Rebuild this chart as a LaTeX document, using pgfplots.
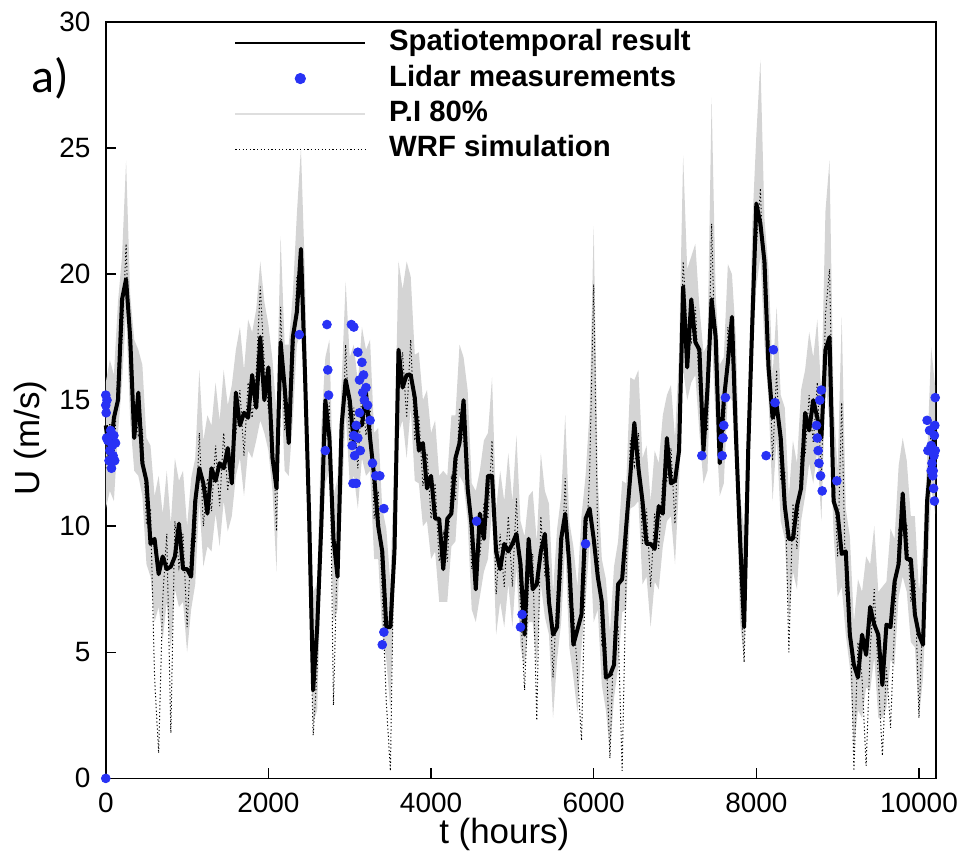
\documentclass[border=0pt]{standalone}
\usepackage{pgfplots}
\pgfplotsset{compat=1.18}
\usepackage{pgfplotstable}
\usepgfplotslibrary{fillbetween}
\usepackage{fontspec}
\setmainfont{Liberation Sans}
\newfontfamily\carlito{Carlito}
\definecolor{lidar}{RGB}{40,50,245}
\definecolor{piband}{RGB}{212,212,212}
\definecolor{pileg}{RGB}{222,222,222}
\pgfplotsset{
  lline/.style={legend image code/.code={\draw[##1] (0pt,0pt) -- (65pt,0pt);}},
  lmark/.style={legend image code/.code={\draw[##1] plot coordinates {(32.5pt,0pt)};}},
}

\pgfplotstableread{
t u hi lo w
0 14.0 15.7 10.7 12.3
50 12.7 16.6 11.4 14.1
100 14.3 16.0 11.0 12.6
150 15.0 18.9 13.7 16.4
200 19.0 20.7 15.7 17.3
250 19.8 24.5 18.5 21.2
300 17.5 19.2 14.2 15.8
350 13.5 17.4 12.2 14.9
400 15.3 17.0 12.0 13.6
450 12.5 16.4 11.2 13.9
500 11.8 13.5 8.5 10.1
550 9.3 13.2 8.0 10.7
600 9.5 11.2 6.2 4.0
650 8.1 12.0 6.8 1.0
700 8.8 10.5 5.5 7.1
750 8.3 12.2 7.0 9.7
800 8.4 10.1 5.1 1.8
850 8.8 12.7 7.5 10.2
900 10.1 11.8 6.8 8.4
950 8.3 12.2 7.0 9.7
1000 8.3 10.0 5.0 6.0
1050 8.0 11.9 6.7 9.4
1100 11.0 12.7 7.7 9.3
1150 12.3 16.2 11.0 13.7
1200 11.7 13.4 8.4 10.0
1250 10.5 14.4 9.2 11.9
1300 12.3 14.0 9.0 10.6
1350 11.8 15.7 10.5 13.2
1400 12.5 14.2 9.2 10.8
1450 12.3 16.2 11.0 13.7
1500 13.1 14.8 9.8 11.4
1550 11.7 15.6 10.4 13.1
1600 15.3 17.0 12.0 13.6
1650 14.0 17.9 12.7 15.4
1700 14.5 16.2 11.2 12.8
1750 14.3 18.2 13.0 15.7
1800 16.0 17.7 12.7 14.3
1850 14.7 18.6 13.4 16.1
1900 17.5 20.5 14.2 19.5
1950 15.0 18.9 13.7 16.4
2000 16.3 18.0 13.0 14.6
2050 12.7 16.6 11.4 14.1
2100 11.5 14.5 8.2 9.8
2150 17.3 21.5 16.0 18.7
2200 15.5 17.2 12.2 13.8
2250 13.3 17.2 12.0 14.7
2300 17.5 19.2 14.2 15.8
2350 18.5 22.4 17.2 19.9
2400 21.0 25.0 17.7 19.3
2450 16.0 19.9 14.7 17.4
2500 10.5 12.2 7.2 8.8
2550 3.5 7.4 2.2 1.7
2600 6.0 7.7 2.7 4.3
2650 10.0 13.9 8.7 11.4
2700 15.0 16.7 11.7 13.3
2750 13.5 17.4 12.2 14.9
2800 9.5 11.2 6.2 2.9
2850 8.0 11.9 6.7 9.4
2900 14.0 15.7 10.7 12.3
2950 15.8 19.7 14.5 17.2
3000 15.0 16.7 11.7 13.3
3050 13.3 17.2 12.0 14.7
3100 14.0 15.7 10.7 12.3
3150 14.0 17.9 12.7 15.4
3200 15.3 17.0 12.0 13.6
3250 13.5 17.4 12.2 14.9
3300 12.0 13.7 8.7 10.3
3350 10.0 13.9 8.7 11.4
3400 9.0 10.7 5.7 7.3
3450 6.0 9.9 4.7 3.0
3500 6.0 7.7 2.7 0.3
3550 9.0 12.9 7.7 10.4
3600 17.0 20.5 13.7 15.3
3650 15.5 19.4 14.2 16.9
3700 16.0 20.5 12.7 14.3
3750 16.0 19.9 14.7 17.4
3800 15.1 16.8 11.8 13.4
3850 13.0 16.9 11.7 14.4
3900 13.3 15.0 10.0 11.6
3950 11.5 15.4 10.2 12.9
4000 12.0 13.7 8.7 10.3
4050 10.3 14.2 9.0 11.7
4100 10.3 12.0 7.0 8.6
4150 8.3 12.2 7.0 9.7
4200 10.3 12.0 7.0 8.6
4250 10.5 14.4 9.2 11.9
4300 12.7 14.4 9.4 11.0
4350 13.3 17.2 12.0 14.7
4400 15.0 16.7 11.7 13.3
4450 11.5 15.4 10.2 12.9
4500 10.0 11.7 6.7 8.3
4550 7.5 11.4 6.2 8.9
4600 10.5 12.2 7.2 8.8
4650 9.5 13.4 8.2 10.9
4700 12.0 13.7 8.7 10.3
4750 12.0 15.9 10.7 13.4
4800 9.0 10.7 5.7 7.3
4850 8.3 12.2 7.0 9.7
4900 9.3 11.0 6.0 7.6
4950 9.0 12.9 7.7 10.4
5000 9.3 11.0 6.0 7.6
5050 9.7 13.6 8.4 11.1
5100 8.5 10.2 5.2 6.8
5150 5.7 9.6 4.4 3.5
5200 9.5 11.2 6.2 7.8
5250 7.5 11.4 6.2 8.9
5300 7.7 9.4 4.4 2.3
5350 9.0 12.9 7.7 10.4
5400 9.7 11.4 6.4 8.0
5450 7.0 10.9 5.7 8.4
5500 5.7 7.4 2.4 4.0
5550 6.0 9.9 4.7 7.4
5600 9.5 11.2 6.2 7.8
5650 10.5 14.4 9.2 11.9
5700 8.5 10.2 5.2 6.8
5750 5.3 9.2 4.0 6.7
5800 5.9 7.6 2.6 4.2
5850 6.5 10.4 5.2 1.5
5900 10.3 12.0 7.0 8.6
5950 10.7 14.6 9.4 12.1
6000 9.5 21.9 6.2 19.6
6050 8.0 11.9 6.7 9.4
6100 7.0 8.7 3.7 5.3
6150 4.0 7.9 2.7 5.4
6200 4.1 5.8 1.0 0.8
6250 4.5 8.4 3.2 5.9
6300 7.7 9.4 4.4 6.0
6350 7.9 11.8 6.6 0.3
6400 10.0 11.7 6.7 8.3
6450 12.0 15.9 10.7 13.4
6500 14.1 15.8 10.8 12.4
6550 12.3 16.2 11.0 13.7
6600 11.0 12.7 7.7 9.3
6650 9.3 13.2 8.0 10.7
6700 9.3 11.0 6.0 7.6
6750 9.1 13.0 7.8 10.5
6800 10.8 12.5 7.5 9.1
6850 10.5 14.4 9.2 11.9
6900 13.5 15.2 10.2 11.8
6950 11.7 15.6 10.4 13.1
7000 11.8 13.5 8.5 10.1
7050 13.0 16.9 11.7 14.4
7100 19.5 24.7 16.2 20.5
7150 16.3 20.2 15.0 17.7
7200 19.0 20.7 15.7 17.3
7250 17.3 21.2 16.0 18.7
7300 17.0 18.7 13.7 15.3
7350 13.0 16.9 11.7 14.4
7400 15.5 17.2 12.2 13.8
7450 19.0 27.0 17.7 22.0
7500 17.5 19.2 14.2 15.8
7550 12.5 16.4 11.2 13.9
7600 15.0 16.7 11.7 13.3
7650 16.5 20.4 15.2 17.9
7700 18.3 20.0 15.0 16.6
7750 13.5 17.4 12.2 14.9
7800 9.5 11.2 6.2 7.8
7850 6.0 9.9 4.7 4.6
7900 13.0 14.7 9.7 11.3
7950 18.0 21.9 16.7 19.4
8000 22.8 25.5 19.5 21.1
8050 22.0 28.5 20.7 23.4
8100 20.5 22.2 17.2 18.8
8150 16.3 20.2 15.0 17.7
8200 14.3 16.0 11.0 12.6
8250 14.8 18.7 13.5 16.2
8300 13.5 15.2 10.2 11.8
8350 10.8 14.7 9.5 12.2
8400 9.5 11.2 6.2 5.0
8450 9.5 13.4 8.2 10.9
8500 10.8 12.5 7.5 9.1
8550 11.5 15.4 10.2 12.9
8600 14.5 16.2 11.2 12.8
8650 13.8 17.7 12.5 15.2
8700 15.0 16.7 11.7 13.3
8750 14.3 18.2 13.0 15.7
8800 13.5 15.2 10.2 11.8
8850 17.0 22.5 15.7 18.4
8900 17.5 24.5 14.2 20.2
8950 11.0 14.9 9.7 12.4
9000 10.5 12.2 7.2 8.8
9050 8.9 18.3 7.6 14.9
9100 9.0 10.7 5.7 7.3
9150 5.7 9.6 4.4 7.1
9200 4.5 6.2 1.2 0.3
9250 4.0 7.9 2.7 5.4
9300 5.7 7.4 2.4 4.0
9350 4.9 8.8 3.6 0.5
9400 6.8 8.5 3.5 5.1
9450 6.1 10.0 4.8 7.5
9500 5.7 7.4 2.4 4.0
9550 3.7 7.6 2.4 0.9
9600 6.1 7.8 2.8 4.4
9650 6.0 9.9 4.7 2.0
9700 7.8 9.5 4.5 6.1
9750 8.5 12.4 7.2 9.9
9800 11.3 13.5 8.0 9.6
9850 8.7 12.6 7.4 10.1
9900 8.7 10.4 5.4 7.0
9950 6.5 10.4 5.2 7.9
10000 5.7 7.4 2.4 2.4
10050 5.3 9.2 4.0 6.7
10100 11.0 12.7 7.7 9.3
10150 12.8 17.1 11.5 14.2
10200 13.8 15.5 10.5 12.1
}\series

\pgfplotstableread{
t y
0 0
0 15.2
0 14.8
5 14.5
15 15.0
10 13.5
25 13.4
40 12.6
50 13.0
60 13.8
70 12.3
80 13.2
90 12.8
100 13.6
110 12.6
120 13.3
2380 17.6
2720 18.0
2730 16.2
2740 15.2
2700 13.0
3020 18.0
3050 17.9
3100 16.9
3150 16.5
3120 15.8
3160 15.3
3180 15.0
3120 14.5
3080 14.0
3050 13.6
3030 13.2
3100 13.5
3130 13.0
3060 12.8
3170 16.0
3200 15.5
3220 14.8
3250 14.2
3040 11.7
3080 11.7
3280 12.5
3320 12.0
3370 12.0
3420 10.7
3400 5.3
3420 5.8
4560 10.2
5100 6.0
5120 6.5
5900 9.3
7330 12.8
7580 12.8
7590 13.5
7600 14.0
7620 15.1
8120 12.8
8210 17.0
8230 14.9
8740 14.0
8750 13.5
8760 13.0
8770 12.5
8780 15.0
8800 15.4
8790 12.0
8810 11.4
8990 11.8
10100 14.2
10110 13.0
10130 13.8
10150 13.2
10160 12.5
10170 12.0
10180 11.5
10190 11.0
10200 13.0
10195 14.0
10185 12.8
10200 15.1
10175 12.2
10150 12.2
10190 13.6
}\lidar

\begin{document}
\begin{tikzpicture}
\begin{axis}[
  scale only axis,
  width=416pt, height=379pt,
  xmin=0, xmax=10210, ymin=0, ymax=30,
  clip=false,
  xtick={0,2000,4000,6000,8000,10000},
  ytick={0,5,10,15,20,25,30},
  scaled x ticks=false,
  /pgf/number format/set thousands separator={},
  /pgf/number format/assume math mode=true,
  tick label style={font=\fontsize{14}{16}\selectfont},
  yticklabel style={inner sep=0pt, xshift=-7.5pt},
  xticklabel style={inner sep=0pt, yshift=-7pt},
  tick align=inside,
  xtick pos=bottom, ytick pos=left,
  major tick length=5pt,
  axis line style={line width=0.8pt},
  every tick/.style={line width=0.8pt, black},
  xlabel={t (hours)},
  ylabel={U (m/s)},
  label style={font=\fontsize{17.5}{20}\selectfont, inner sep=0pt},
  xlabel style={at={(axis description cs:0.48,-0.074)}, anchor=center},
  ylabel style={at={(axis description cs:-0.091,0.45)}, anchor=center},
  legend style={at={(axis description cs:0.155,0.991)}, anchor=north west,
    draw=none, fill=none, inner sep=0pt, outer sep=0pt,
    font=\bfseries\fontsize{14.7}{17.6}\selectfont,
    nodes={inner sep=0pt, text height=11pt, text depth=3.5pt},
    row sep=3.2pt,
    /tikz/every odd column/.append style={column sep=11.5pt}},
  legend cell align=left,
  lline,
]
\addlegendimage{black, line width=0.8pt}
\addlegendentry{Spatiotemporal result}
\addlegendimage{only marks, mark=*, mark size=2.6pt, color=lidar, lmark}
\addlegendentry{Lidar measurements}
\addlegendimage{pileg, line width=1pt}
\addlegendentry{P.I 80\%}
\addlegendimage{black, line width=0.5pt, dash pattern=on 0.6pt off 1.2pt}
\addlegendentry{WRF simulation}

\addplot[name path=hi, draw=none, forget plot] table[x=t, y=hi]{\series};
\addplot[name path=lo, draw=none, forget plot] table[x=t, y=lo]{\series};
\addplot[fill=piband, draw=none, forget plot] fill between[of=hi and lo];
\addplot[black, line width=0.5pt, dash pattern=on 0.6pt off 1.2pt, forget plot] table[x=t, y=w]{\series};
\addplot[black, line width=2pt, line join=round, forget plot] table[x=t, y=u]{\series};
\addplot[only marks, mark=*, mark size=2.2pt, color=lidar, forget plot] table[x=t, y=y]{\lidar};

\node[font=\carlito\fontsize{24}{24}\selectfont, inner sep=0pt] at (axis description cs:-0.067,0.926) {a)};
\end{axis}
\path (-53pt,-36pt) rectangle (427pt,390pt);
\end{tikzpicture}
\end{document}
